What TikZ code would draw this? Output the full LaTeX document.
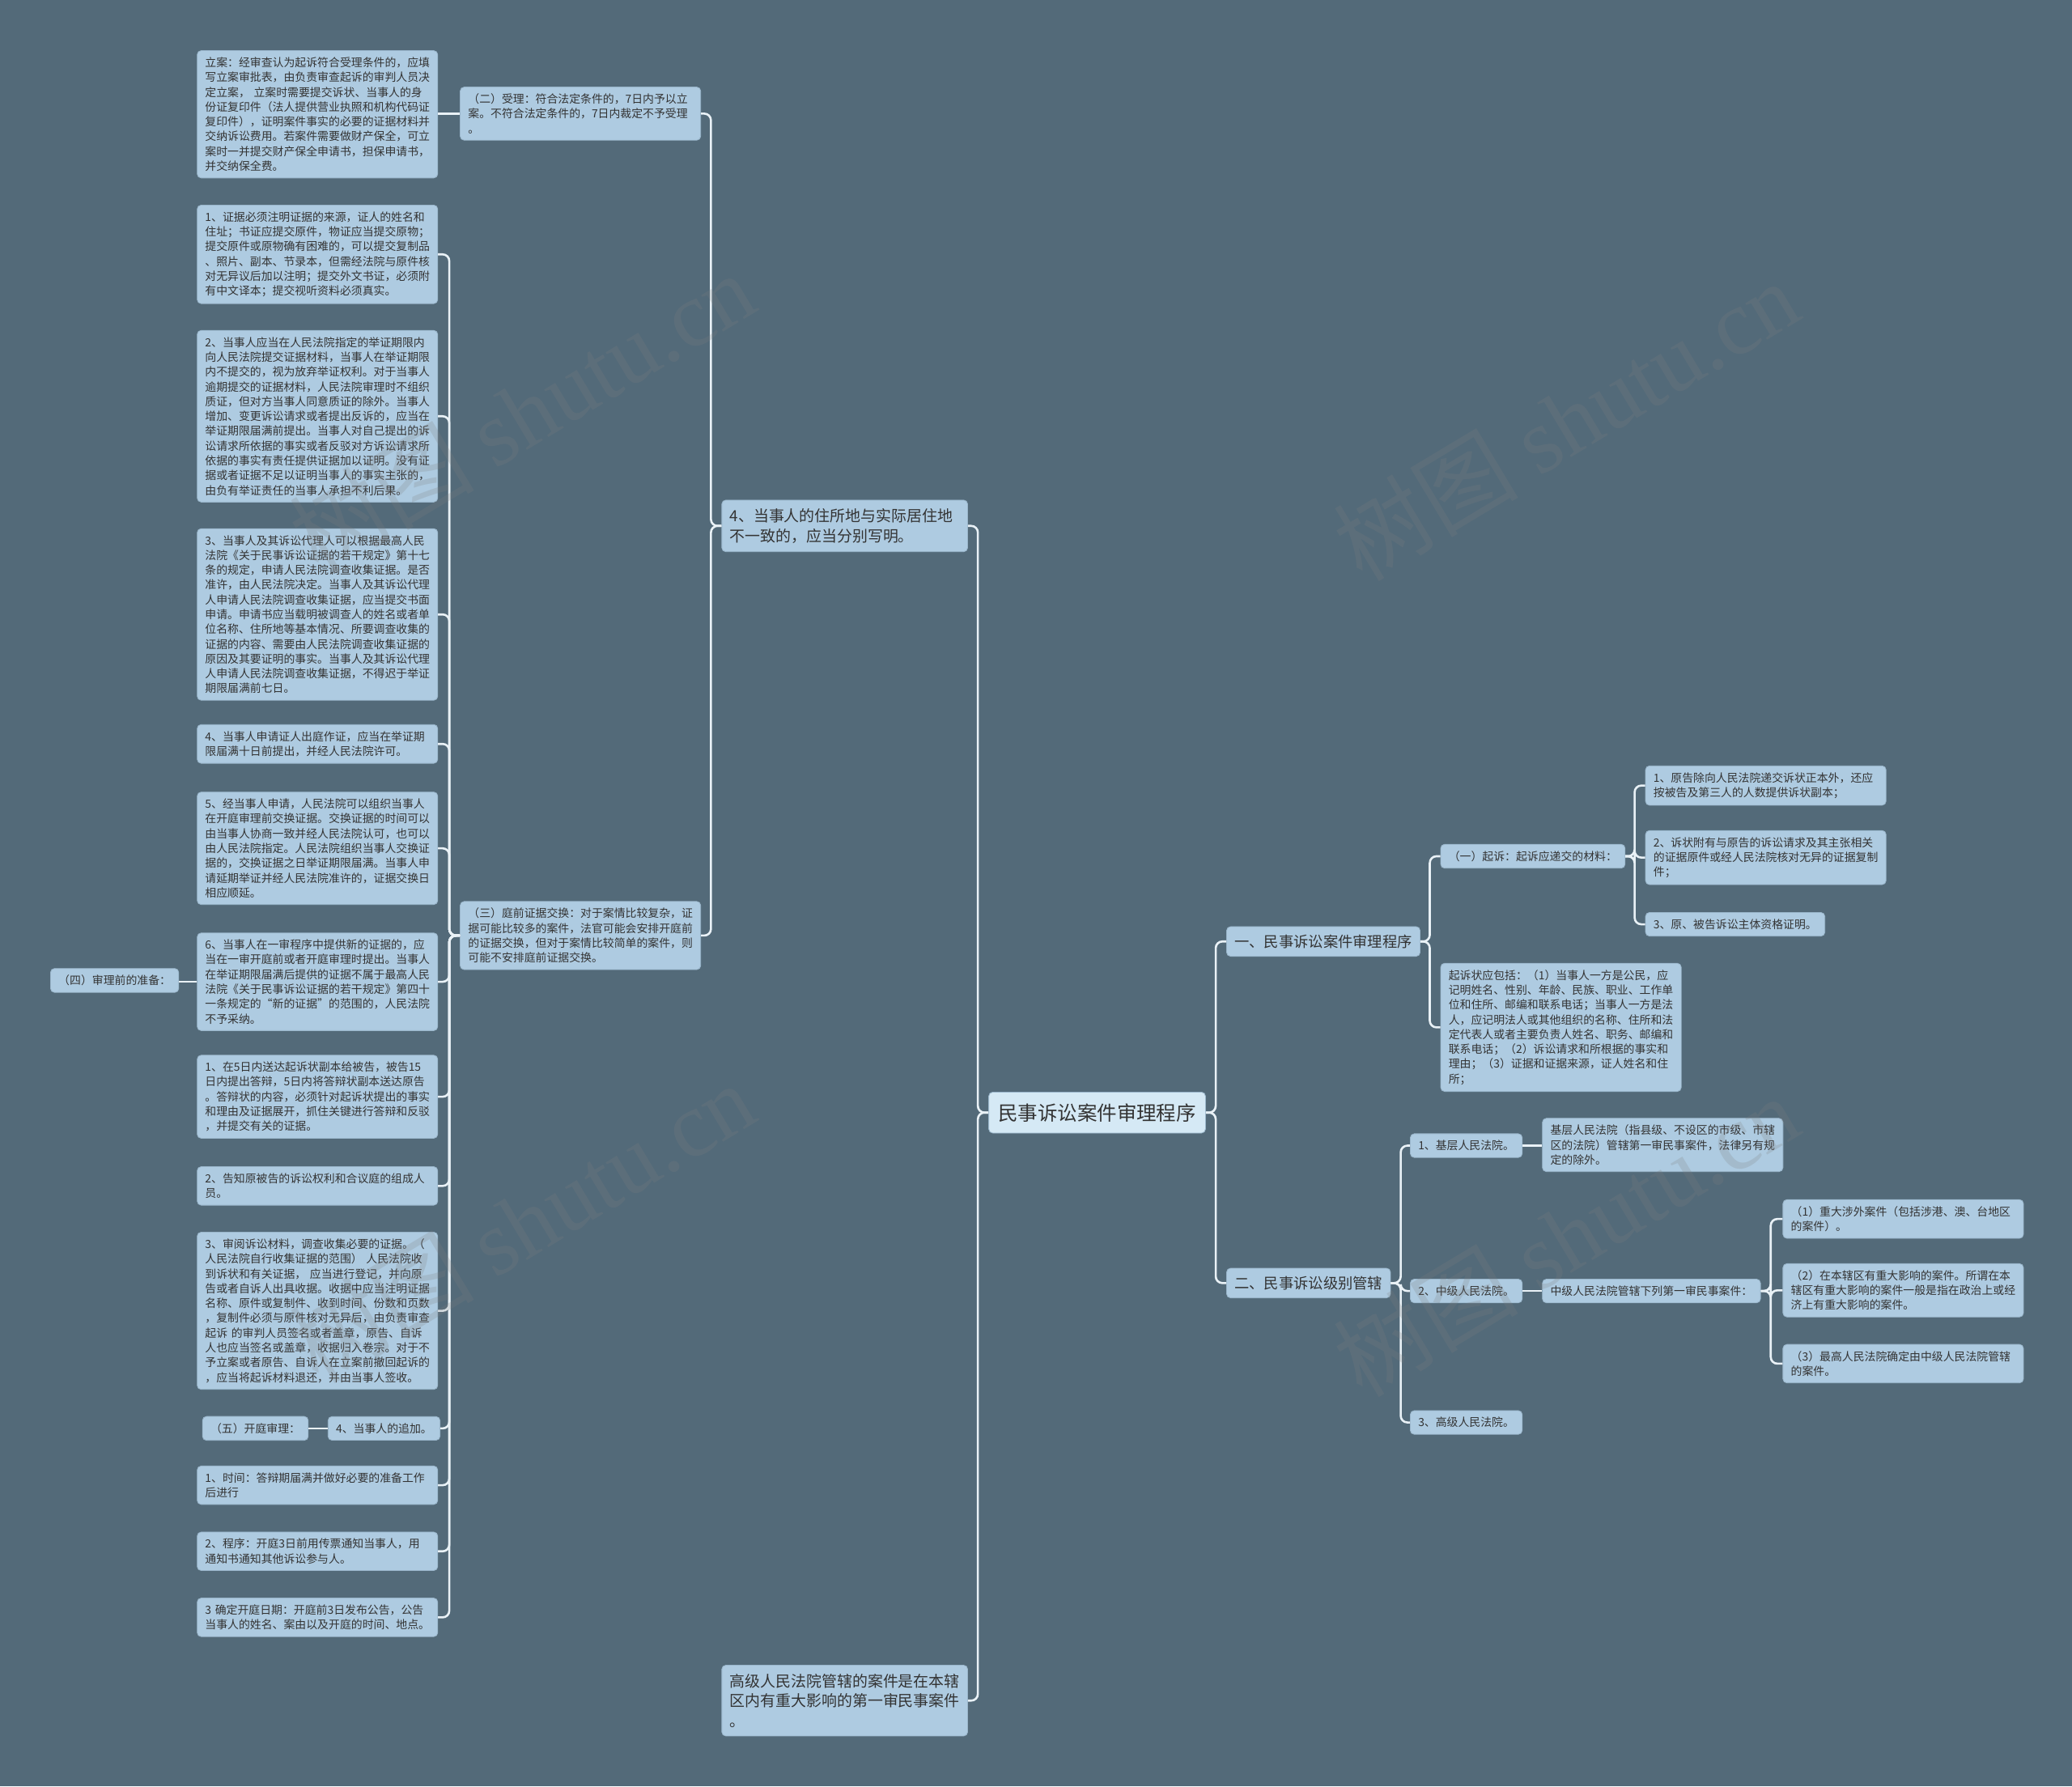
\documentclass[tikz,border=0pt]{standalone}
\usepackage{fontspec}
\setmainfont{Noto Sans CJK SC}
\newfontfamily\wmserif{Liberation Serif}
\definecolor{bg}{HTML}{536A79}
\definecolor{boxc}{HTML}{AECBE1}
\definecolor{boxd}{HTML}{9AB6CB}
\definecolor{rootc}{HTML}{D5E9F5}
\definecolor{txtc}{HTML}{333333}
\definecolor{linec}{HTML}{E9F1F6}
\newcommand{\lnk}[3]{\draw[link] (#1) -- (#1 -| #2) -- (#3 -| #2) -- (#3);}
\begin{document}
\begin{tikzpicture}[x=1pt,y=-1pt,
  box/.style={rectangle,rounded corners=3pt,fill=boxc,draw=boxd,line width=0.5pt,text=txtc,inner xsep=6pt,inner ysep=5pt,font=\fontsize{8.5pt}{11.2pt}\selectfont,align=left,anchor=west},
  wbox/.style={box,text width=170pt},
  big/.style={box,font=\fontsize{11.6pt}{15pt}\selectfont,inner ysep=6.5pt,text width=174pt},
  mid/.style={box,font=\fontsize{11.2pt}{14pt}\selectfont,inner ysep=6pt},
  rootbox/.style={box,fill=rootc,font=\fontsize{15pt}{18pt}\selectfont,inner xsep=7pt,inner ysep=8.5pt},
  link/.style={draw=linec,line width=1.6pt,rounded corners=5pt},
  wm/.style={text=gray,opacity=0.22,font=\fontsize{70pt}{70pt}\selectfont,rotate=31,anchor=center}]
\fill[bg] (0,0) rectangle (1568,1351.8);
\useasboundingbox (0,0) rectangle (1568,1351.8);
% trunk coordinates
\coordinate (TL0) at (740,0);
\coordinate (TL1) at (538,0);
\coordinate (TL2) at (340,0);
\coordinate (TR0) at (920,0);
\coordinate (TR1) at (1082,0);
\coordinate (TR2) at (1237,0);
\coordinate (TR3) at (1060,0);
\coordinate (TR4) at (1340,0);
% root
\node[rootbox] (root) at (748,842) {民事诉讼案件审理程序};
% left side
\node[big] (zhu) at (546,398) {4、当事人的住所地与实际居住地\\不一致的，应当分别写明。};
\node[big] (gao) at (546,1287) {高级人民法院管辖的案件是在本辖\\区内有重大影响的第一审民事案件\\。};
\node[wbox] (shouli) at (348,86) {（二）受理：符合法定条件的，7日内予以立\\案。不符合法定条件的，7日内裁定不予受理\\。};
\node[wbox] (san) at (348,708) {（三）庭前证据交换：对于案情比较复杂，证\\据可能比较多的案件，法官可能会安排开庭前\\的证据交换，但对于案情比较简单的案件，则\\可能不安排庭前证据交换。};
\node[wbox] (lian) at (149,86.5) {立案：经审查认为起诉符合受理条件的，应填\\写立案审批表，由负责审查起诉的审判人员决\\定立案， 立案时需要提交诉状、当事人的身\\份证复印件（法人提供营业执照和机构代码证\\复印件），证明案件事实的必要的证据材料并\\交纳诉讼费用。若案件需要做财产保全，可立\\案时一并提交财产保全申请书，担保申请书，\\并交纳保全费。};
\node[wbox] (e1) at (149,192.5) {1、证据必须注明证据的来源，证人的姓名和\\住址；书证应提交原件，物证应当提交原物；\\提交原件或原物确有困难的，可以提交复制品\\、照片、副本、节录本，但需经法院与原件核\\对无异议后加以注明；提交外文书证，必须附\\有中文译本；提交视听资料必须真实。};
\node[wbox] (e2) at (149,315) {2、当事人应当在人民法院指定的举证期限内\\向人民法院提交证据材料，当事人在举证期限\\内不提交的，视为放弃举证权利。对于当事人\\逾期提交的证据材料，人民法院审理时不组织\\质证，但对方当事人同意质证的除外。当事人\\增加、变更诉讼请求或者提出反诉的，应当在\\举证期限届满前提出。当事人对自己提出的诉\\讼请求所依据的事实或者反驳对方诉讼请求所\\依据的事实有责任提供证据加以证明。没有证\\据或者证据不足以证明当事人的事实主张的，\\由负有举证责任的当事人承担不利后果。};
\node[wbox] (e3) at (149,465) {3、当事人及其诉讼代理人可以根据最高人民\\法院《关于民事诉讼证据的若干规定》第十七\\条的规定，申请人民法院调查收集证据。是否\\准许，由人民法院决定。当事人及其诉讼代理\\人申请人民法院调查收集证据，应当提交书面\\申请。申请书应当载明被调查人的姓名或者单\\位名称、住所地等基本情况、所要调查收集的\\证据的内容、需要由人民法院调查收集证据的\\原因及其要证明的事实。当事人及其诉讼代理\\人申请人民法院调查收集证据，不得迟于举证\\期限届满前七日。};
\node[wbox] (e4) at (149,563) {4、当事人申请证人出庭作证，应当在举证期\\限届满十日前提出，并经人民法院许可。};
\node[wbox] (e5) at (149,642) {5、经当事人申请，人民法院可以组织当事人\\在开庭审理前交换证据。交换证据的时间可以\\由当事人协商一致并经人民法院认可，也可以\\由人民法院指定。人民法院组织当事人交换证\\据的，交换证据之日举证期限届满。当事人申\\请延期举证并经人民法院准许的，证据交换日\\相应顺延。};
\node[wbox] (e6) at (149,743) {6、当事人在一审程序中提供新的证据的，应\\当在一审开庭前或者开庭审理时提出。当事人\\在举证期限届满后提供的证据不属于最高人民\\法院《关于民事诉讼证据的若干规定》第四十\\一条规定的“新的证据”的范围的，人民法院\\不予采纳。};
\node[box] (si) at (38,742) {（四）审理前的准备：};
\node[wbox] (p1) at (149,830) {1、在5日内送达起诉状副本给被告，被告15\\日内提出答辩，5日内将答辩状副本送达原告\\。答辩状的内容，必须针对起诉状提出的事实\\和理由及证据展开，抓住关键进行答辩和反驳\\，并提交有关的证据。};
\node[wbox] (p2) at (149,897.5) {2、告知原被告的诉讼权利和合议庭的组成人\\员。};
\node[wbox] (p3) at (149,992) {3、审阅诉讼材料，调查收集必要的证据。（\\人民法院自行收集证据的范围） 人民法院收\\到诉状和有关证据， 应当进行登记，并向原\\告或者自诉人出具收据。收据中应当注明证据\\名称、原件或复制件、收到时间、份数和页数\\，复制件必须与原件核对无异后，由负责审查\\起诉 的审判人员签名或者盖章，原告、自诉\\人也应当签名或盖章，收据归入卷宗。对于不\\予立案或者原告、自诉人在立案前撤回起诉的\\，应当将起诉材料退还，并由当事人签收。};
\node[box] (add) at (248,1081) {4、当事人的追加。};
\node[box] (wu) at (153,1081) {（五）开庭审理：};
\node[wbox] (t1) at (149,1124) {1、时间：答辩期届满并做好必要的准备工作\\后进行};
\node[wbox] (t2) at (149,1174) {2、程序：开庭3日前用传票通知当事人，用\\通知书通知其他诉讼参与人。};
\node[wbox] (t3) at (149,1224) {3 确定开庭日期：开庭前3日发布公告，公告\\当事人的姓名、案由以及开庭的时间、地点。};
% right side
\node[mid] (A) at (928,712.5) {一、民事诉讼案件审理程序};
\node[mid] (B) at (928,971) {二、民事诉讼级别管辖};
\node[box] (qs) at (1090,648) {（一）起诉：起诉应递交的材料：};
\node[wbox] (qsz) at (1090,777.5) {起诉状应包括：（1）当事人一方是公民，应\\记明姓名、性别、年龄、民族、职业、工作单\\位和住所、邮编和联系电话；当事人一方是法\\人，应记明法人或其他组织的名称、住所和法\\定代表人或者主要负责人姓名、职务、邮编和\\联系电话；（2）诉讼请求和所根据的事实和\\理由；（3）证据和证据来源，证人姓名和住\\所；};
\node[wbox] (r1) at (1245,594.5) {1、原告除向人民法院递交诉状正本外，还应\\按被告及第三人的人数提供诉状副本；};
\node[wbox] (r2) at (1245,649) {2、诉状附有与原告的诉讼请求及其主张相关\\的证据原件或经人民法院核对无异的证据复制\\件；};
\node[box] (r3) at (1245,699.5) {3、原、被告诉讼主体资格证明。};
\node[box] (j1) at (1067,867) {1、基层人民法院。};
\node[wbox] (j1t) at (1167,866.5) {基层人民法院（指县级、不设区的市级、市辖\\区的法院）管辖第一审民事案件，法律另有规\\定的除外。};
\node[box] (j2) at (1067,977) {2、中级人民法院。};
\node[box] (j2t) at (1167,977) {中级人民法院管辖下列第一审民事案件：};
\node[box] (j3) at (1067,1076.5) {3、高级人民法院。};
\node[wbox] (m1) at (1349,922.5) {（1）重大涉外案件（包括涉港、澳、台地区\\的案件）。};
\node[wbox] (m2) at (1349,976.5) {（2）在本辖区有重大影响的案件。所谓在本\\辖区有重大影响的案件一般是指在政治上或经\\济上有重大影响的案件。};
\node[wbox] (m3) at (1349,1032) {（3）最高人民法院确定由中级人民法院管辖\\的案件。};
% connectors left
\lnk{root.west}{TL0}{zhu.east}
\lnk{root.west}{TL0}{gao.east}
\lnk{zhu.west}{TL1}{shouli.east}
\lnk{zhu.west}{TL1}{san.east}
\draw[link] (shouli.west) -- (shouli.west -| lian.east);
\foreach \c in {e1,e2,e3,e4,e5,e6,p1,p2,p3,add,t1,t2,t3}{\lnk{san.west}{TL2}{\c.east}}
\draw[link] (e6.west) -- (e6.west -| si.east);
\draw[link] (add.west) -- (add.west -| wu.east);
% connectors right
\lnk{root.east}{TR0}{A.west}
\lnk{root.east}{TR0}{B.west}
\lnk{A.east}{TR1}{qs.west}
\lnk{A.east}{TR1}{qsz.west}
\foreach \c in {r1,r2,r3}{\lnk{qs.east}{TR2}{\c.west}}
\foreach \c in {j1,j2,j3}{\lnk{B.east}{TR3}{\c.west}}
\draw[link] (j1.east) -- (j1.east -| j1t.west);
\draw[link] (j2.east) -- (j2.east -| j2t.west);
\foreach \c in {m1,m2,m3}{\lnk{j2t.east}{TR4}{\c.west}}
% watermarks
\node[wm] (wm1) at (395,312) {树图 {\wmserif shutu.cn}};
\node[wm] (wm2) at (1185,318) {树图 {\wmserif shutu.cn}};
\node[wm] (wm3) at (395,925) {树图 {\wmserif shutu.cn}};
\node[wm] (wm4) at (1185,935) {树图 {\wmserif shutu.cn}};
\end{tikzpicture}
\end{document}
